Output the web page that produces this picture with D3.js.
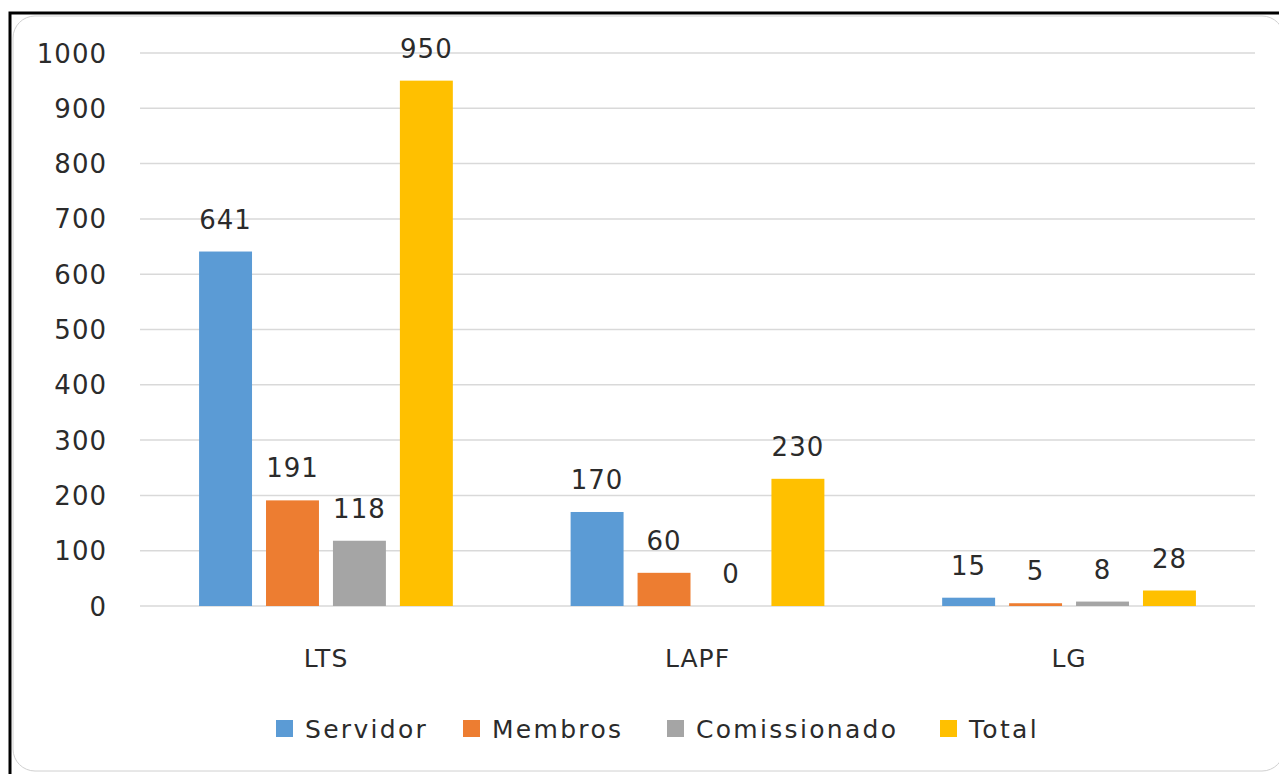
<!DOCTYPE html>
<html>
<head>
<meta charset="utf-8">
<script src="https://cdn.jsdelivr.net/npm/d3@7"></script>
<style>
  body { margin: 0; background: #fff; }
  svg text { font-family: "DejaVu Sans", sans-serif; fill: #2b2b2b; }
</style>
</head>
<body>
<svg id="chart"></svg>
<script>
// dados do gráfico
var categories = ["LTS", "LAPF", "LG"]
var series = ["Servidor", "Membros", "Comissionado", "Total"]
var servidor = [641, 170, 15]
var membros = [191, 60, 5]
var comissionado = [118, 0, 8]
var total = [950, 230, 28]
var yTicks = [0, 100, 200, 300, 400, 500, 600, 700, 800, 900, 1000]
var colors = ["#5B9BD5", "#ED7D31", "#A5A5A5", "#FFC000"]

var values = [servidor, membros, comissionado, total]
var data = categories.map((c, i) => ({
  cat: c,
  values: series.map((s, j) => ({ name: s, value: values[j][i] }))
}))

var W = 1279, H = 774
var svg = d3.select("#chart").attr("width", W).attr("height", H)

// moldura
svg.append("rect")
  .attr("x", 10).attr("y", 13)
  .attr("width", W + 20).attr("height", H + 20)
  .attr("fill", "#fff")
  .attr("stroke", "#000")
  .attr("stroke-width", 3)
svg.append("rect")
  .attr("x", 13).attr("y", 16)
  .attr("width", W - 8).attr("height", H - 19)
  .attr("rx", 22)
  .attr("fill", "none")
  .attr("stroke", "#d0d0d0")
  .attr("stroke-width", 1)

var mLeft = 140, mRight = 1255, mTop = 53, mBottom = 606

var y = d3.scaleLinear().domain([0, 1000]).range([mBottom, mTop])
var x0 = d3.scaleBand().domain(categories).range([mLeft, mRight])
  .paddingInner(0.317).paddingOuter(0.159)
var x1 = d3.scaleBand().domain(series).range([0, x0.bandwidth()])
  .paddingInner(0.209)
var color = d3.scaleOrdinal().domain(series).range(colors)

// linhas de grade
svg.append("g").selectAll("line.grid")
  .data(yTicks).enter().append("line")
  .attr("x1", mLeft).attr("x2", mRight)
  .attr("y1", d => y(d)).attr("y2", d => y(d))
  .attr("stroke", "#d9d9d9")
  .attr("stroke-width", 1.5)

// eixo y
svg.append("g").selectAll("text.ytick")
  .data(yTicks).enter().append("text")
  .text(d => d)
  .attr("x", 107)
  .attr("y", d => y(d) + 9.5)
  .attr("text-anchor", "end")
  .style("font-size", "26px")
  .style("letter-spacing", "1px")

// barras
var groups = svg.selectAll("g.cat")
  .data(data).enter().append("g")
  .attr("class", "cat")
  .attr("transform", d => `translate(${x0(d.cat)},0)`)

groups.selectAll("rect")
  .data(d => d.values).enter().append("rect")
  .attr("x", d => x1(d.name))
  .attr("width", x1.bandwidth())
  .attr("y", d => y(d.value))
  .attr("height", d => mBottom - y(d.value))
  .attr("fill", d => color(d.name))

groups.selectAll("text.val")
  .data(d => d.values).enter().append("text")
  .text(d => d.value)
  .attr("x", d => x1(d.name) + x1.bandwidth() / 2)
  .attr("y", d => y(d.value) - 23)
  .attr("text-anchor", "middle")
  .style("font-size", "26px")
  .style("letter-spacing", "1px")

// rótulos das categorias
svg.append("g").selectAll("text.cat")
  .data(categories).enter().append("text")
  .text(d => d)
  .attr("x", d => x0(d) + x0.bandwidth() / 2)
  .attr("y", 667)
  .attr("text-anchor", "middle")
  .style("font-size", "25px")
  .style("letter-spacing", "1px")

// legenda
var legendX = [276, 463, 667, 940]
var legend = svg.append("g").selectAll("g.leg")
  .data(series).enter().append("g")
  .attr("transform", (d, i) => `translate(${legendX[i]},720)`)
legend.append("rect")
  .attr("width", 17).attr("height", 17)
  .attr("fill", d => color(d))
legend.append("text")
  .text(d => d)
  .attr("x", 29).attr("y", 18)
  .style("font-size", "25px")
  .style("letter-spacing", "2.3px")
</script>
</body>
</html>
